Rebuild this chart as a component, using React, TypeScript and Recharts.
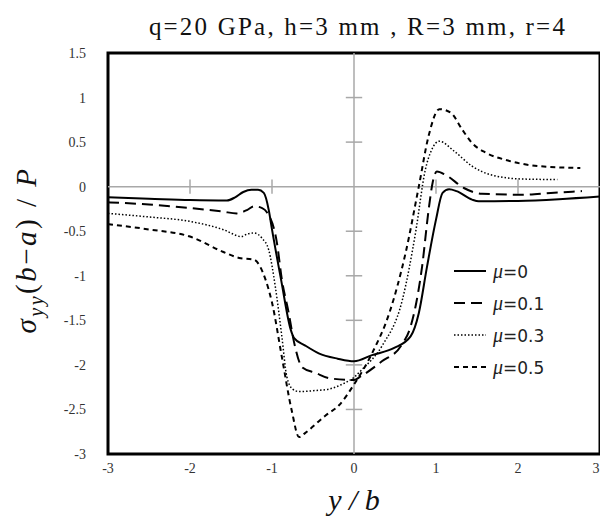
import { LineChart, Line, XAxis, YAxis, ReferenceLine, ReferenceArea, Legend } from 'recharts'

const xTicks = [-3, -2, -1, 0, 1, 2, 3]
const yTicks = [-3, -2.5, -2, -1.5, -1, -0.5, 0, 0.5, 1, 1.5]
// little cross ticks drawn on the zero axes inside the plot
const innerXTicks = [-2, -1, 1, 2]
const innerYTicks = [-2.5, -2, -1.5, -1, -0.5, 0.5, 1]

const mu0X = [-3, -2.5, -2, -1.55, -1.45, -1.35, -1.25, -1.17, -1.1, -1.04, -1.0, -0.89, -0.77, -0.73, -0.6, -0.43, -0.2, 0, 0.22, 0.49, 0.69, 0.79, 0.89, 1.0, 1.08, 1.16, 1.25, 1.44, 1.52, 2.0, 2.5, 3.0]
const mu0Y = [-0.12, -0.135, -0.15, -0.155, -0.12, -0.06, -0.035, -0.035, -0.07, -0.26, -0.48, -1.04, -1.61, -1.7, -1.78, -1.87, -1.93, -1.96, -1.89, -1.81, -1.68, -1.42, -0.9, -0.37, -0.07, -0.03, -0.05, -0.146, -0.165, -0.16, -0.14, -0.11]

const mu01X = [-3, -2.5, -2, -1.6, -1.43, -1.3, -1.22, -1.12, -1.06, -0.94, -0.88, -0.8, -0.73, -0.63, -0.47, -0.3, 0, 0.08, 0.34, 0.57, 0.69, 0.76, 0.83, 0.91, 0.96, 1.01, 1.12, 1.34, 1.56, 2.05, 2.4, 2.78]
const mu01Y = [-0.176, -0.2, -0.24, -0.28, -0.3, -0.26, -0.22, -0.24, -0.29, -0.63, -1.04, -1.4, -1.75, -2.03, -2.09, -2.15, -2.17, -2.13, -1.96, -1.79, -1.57, -1.3, -0.9, -0.26, 0.05, 0.17, 0.13, -0.015, -0.08, -0.09, -0.07, -0.05]

const mu03X = [-3, -2.5, -2, -1.6, -1.37, -1.3, -1.22, -1.12, -1.04, -0.96, -0.88, -0.82, -0.75, -0.67, -0.5, -0.3, -0.15, 0, 0.1, 0.34, 0.59, 0.75, 0.87, 0.95, 1.04, 1.22, 1.44, 1.68, 2.05, 2.48]
const mu03Y = [-0.3, -0.34, -0.39, -0.48, -0.56, -0.53, -0.52, -0.58, -0.71, -1.12, -1.68, -2.13, -2.27, -2.3, -2.29, -2.27, -2.22, -2.14, -2.05, -1.79, -1.27, -0.52, 0.19, 0.42, 0.51, 0.4, 0.23, 0.13, 0.086, 0.08]

const mu05X = [-3, -2.5, -2, -1.6, -1.4, -1.22, -1.08, -1.0, -0.88, -0.76, -0.67, -0.59, -0.35, -0.18, 0, 0.22, 0.43, 0.63, 0.79, 0.91, 1.04, 1.18, 1.32, 1.44, 1.61, 1.85, 2.26, 2.76]
const mu05Y = [-0.42, -0.48, -0.56, -0.73, -0.8, -0.82, -1.04, -1.3, -1.91, -2.51, -2.81, -2.76, -2.57, -2.45, -2.22, -1.87, -1.42, -0.74, 0.0, 0.57, 0.87, 0.83, 0.64, 0.49, 0.38, 0.3, 0.23, 0.21]

const zip = (xs: number[], ys: number[]) => xs.map((x, i) => ({ x, y: ys[i] }))

const series = [
  { name: '0', data: zip(mu0X, mu0Y), dash: undefined, width: 2 },
  { name: '0.1', data: zip(mu01X, mu01Y), dash: '11 6', width: 2 },
  { name: '0.3', data: zip(mu03X, mu03Y), dash: '1.5 2', width: 1.5 },
  { name: '0.5', data: zip(mu05X, mu05Y), dash: '5 4', width: 2 },
]

const serif = '"Liberation Serif", "Times New Roman", serif'
const axisGray = '#a8a8a8'

const XTick = ({ x, y, payload }: { x?: number; y?: number; payload?: { value: number } }) => (
  <text x={x} y={(y ?? 0) + 13} textAnchor="middle" fill="#333" fontSize={14} fontFamily={serif}>
    {payload?.value}
  </text>
)

const YTick = ({ x, y, payload }: { x?: number; y?: number; payload?: { value: number } }) => (
  <text x={x} y={(y ?? 0) + 5} textAnchor="end" fill="#333" fontSize={14} fontFamily={serif}>
    {payload?.value}
  </text>
)

const MuLegend = () => (
  <div style={{ fontFamily: '"DejaVu Sans", sans-serif', fontSize: 17, color: '#222' }}>
    {series.map((s) => (
      <div key={s.name} style={{ display: 'flex', alignItems: 'center', height: 32 }}>
        <svg width={34} height={10} style={{ marginRight: 6 }}>
          <line x1={1} y1={5} x2={33} y2={5} stroke="#000" strokeWidth={s.width} strokeDasharray={s.dash} />
        </svg>
        <span>
          <i style={{ fontFamily: serif, fontSize: 20 }}>μ</i>=<span>{s.name}</span>
        </span>
      </div>
    ))}
  </div>
)

export default function App() {
  return (
    <div style={{ position: 'relative', width: 600, height: 521, background: '#fff' }}>
      <style>{'body{margin:0}'}</style>
      <div
        style={{
          position: 'absolute', left: 0, width: 716, top: 13, textAlign: 'center',
          fontFamily: serif, fontSize: 25, letterSpacing: 2.2, color: '#111', whiteSpace: 'nowrap',
        }}
      >
        q=20 GPa, h=3 mm , R=3 mm, r=4
      </div>
      <div
        style={{
          position: 'absolute', left: 29, top: 250, transform: 'translate(-50%, -50%) rotate(-90deg)',
          fontFamily: serif, fontSize: 29, letterSpacing: 2.5, whiteSpace: 'nowrap', color: '#111',
        }}
      >
        <i>σ</i><sub style={{ fontSize: 20 }}><i>yy</i></sub>(<i>b</i>−<i>a</i>) / <i>P</i>
      </div>
      <div
        style={{
          position: 'absolute', left: 354, top: 500, transform: 'translate(-50%, -50%)',
          fontFamily: serif, fontSize: 30, fontStyle: 'italic', whiteSpace: 'nowrap', color: '#111',
        }}
      >
        y / b
      </div>
      <LineChart width={600} height={521} margin={{ top: 53, right: 0, bottom: 0, left: 0 }}>
        <XAxis
          type="number"
          dataKey="x"
          domain={[-3, 3]}
          ticks={xTicks}
          allowDataOverflow
          axisLine={false}
          tickLine={false}
          tickSize={0}
          tickMargin={6}
          height={67}
          tick={<XTick />}
        />
        <YAxis
          type="number"
          dataKey="y"
          domain={[-3, 1.5]}
          ticks={yTicks}
          allowDataOverflow
          axisLine={false}
          tickLine={false}
          tickSize={0}
          tickMargin={22}
          width={108}
          tick={<YTick />}
        />
        <ReferenceLine x={0} stroke={axisGray} strokeWidth={1.5} />
        <ReferenceLine y={0} stroke={axisGray} strokeWidth={1.5} />
        {innerYTicks.map((t) => (
          <ReferenceLine key={`ty${t}`} segment={[{ x: -0.1, y: t }, { x: 0.1, y: t }]} stroke={axisGray} strokeWidth={1.5} />
        ))}
        {innerXTicks.map((t) => (
          <ReferenceLine key={`tx${t}`} segment={[{ x: t, y: -0.08 }, { x: t, y: 0.08 }]} stroke={axisGray} strokeWidth={1.5} />
        ))}
        <ReferenceArea x1={-3} x2={3} y1={-3} y2={1.5} fill="none" stroke="#000" strokeWidth={3} />
        {series.map((s) => (
          <Line
            key={s.name}
            data={s.data}
            dataKey="y"
            name={`μ=${s.name}`}
            type="monotone"
            stroke="#000"
            strokeWidth={s.width}
            strokeDasharray={s.dash}
            dot={false}
            activeDot={false}
            isAnimationActive={false}
          />
        ))}
        <Legend
          layout="horizontal"
          verticalAlign="middle"
          content={<MuLegend />}
          wrapperStyle={{ position: 'absolute', left: 453, top: 255, width: 140 }}
        />
      </LineChart>
    </div>
  )
}
